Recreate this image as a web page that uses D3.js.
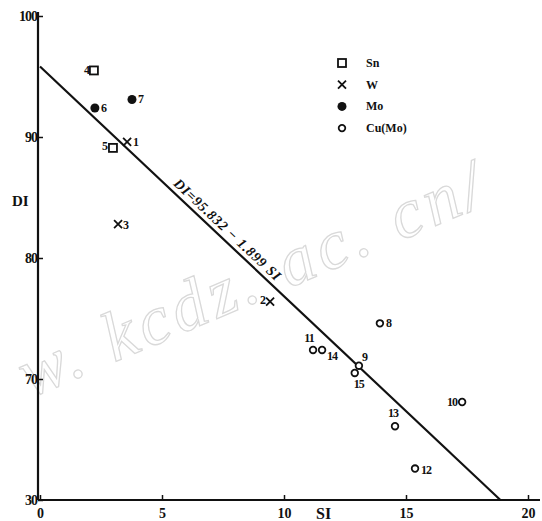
<!DOCTYPE html>
<html><head><meta charset="utf-8">
<script src="https://cdn.jsdelivr.net/npm/d3@7"></script>
<style>
body{margin:0;background:#fff;}
svg{display:block;}
text{font-family:"Liberation Serif","DejaVu Serif",serif;font-weight:bold;fill:#111;}
</style></head><body>
<svg id="c" width="542" height="521"></svg>
<script>
// ---- data ----
const pointIds   = ["1","2","3","4","5","6","7","8","9","10","11","12","13","14","15"];
const pointGroup = ["W","W","W","Sn","Sn","Mo","Mo","Cu(Mo)","Cu(Mo)","Cu(Mo)","Cu(Mo)","Cu(Mo)","Cu(Mo)","Cu(Mo)","Cu(Mo)"];
const siValues   = [3.57, 9.43, 3.2, 2.21, 2.99, 2.25, 3.77, 13.93, 13.07, 17.3, 11.19, 15.37, 14.55, 11.56, 12.9];
const diValues   = [89.6, 76.4, 82.8, 95.5, 89.1, 92.4, 93.1, 74.6, 71.1, 68.1, 72.4, 62.6, 66.1, 72.4, 70.5];
const legendKeys = ["Sn","W","Mo","Cu(Mo)"];
const xTicks = [0,5,10,15,20];
const yTicks = [60,70,80,90,100];
const yTickLabels = ["30","70","80","90","100"];
const fitIntercept = 95.832, fitSlope = -1.899;
const fitLabel = "DI=95.832 \u2212 1.899 SI";

// ---- drawing ----
const svg = d3.select("#c");
const x = d3.scaleLinear().domain([0,20]).range([40,528]);
const y = d3.scaleLinear().domain([60,100]).range([500,16]);

// watermark
svg.append("text").attr("transform","translate(30,398) rotate(-23)")
  .attr("font-size",70).attr("font-style","italic")
  .style("font-weight","normal").style("fill","none").style("stroke","#d9d9d9").style("stroke-width",1.3)
  .style("letter-spacing","5px")
  .text("w. kcdz. ac. cn/");

// axes
const xAxis = d3.axisBottom(x).tickValues(xTicks).tickSize(-5).tickFormat(d3.format("d"));
const gx = svg.append("g").attr("transform","translate(0,"+y(60)+")").call(xAxis);
gx.select(".domain").attr("d","M38,0H540").attr("stroke","#111").attr("stroke-width",2.2);
gx.selectAll(".tick line").attr("stroke","#111").attr("stroke-width",1.5);
gx.selectAll(".tick text").attr("y",8).attr("font-size",14).style("font-family","Liberation Serif, serif").style("font-weight","bold");

const yAxis = d3.axisLeft(y).tickValues(yTicks).tickSize(-5).tickFormat((d,i)=>yTickLabels[i]);
const gy = svg.append("g").attr("transform","translate(38,0)").call(yAxis);
gy.select(".domain").attr("d","M0,12V500").attr("stroke","#111").attr("stroke-width",2.2);
gy.selectAll(".tick line").attr("stroke","#111").attr("stroke-width",1.5);
gy.selectAll(".tick text").attr("x",-1).attr("font-size",14).attr("dy","0.3em")
  .style("font-family","Liberation Serif, serif").style("font-weight","bold").style("letter-spacing","-1px");

// axis titles
svg.append("text").attr("x",12).attr("y",206).attr("font-size",15).text("DI");
svg.append("text").attr("x",316).attr("y",519).attr("font-size",16).text("SI");

// regression line
const xEnd = (60 - fitIntercept)/fitSlope;
svg.append("line")
  .attr("x1",x(0)).attr("y1",y(fitIntercept))
  .attr("x2",x(xEnd)).attr("y2",y(60))
  .attr("stroke","#111").attr("stroke-width",2.2);
const ang = Math.atan2(y(60)-y(fitIntercept), x(xEnd)-x(0))*180/Math.PI;
const lx = x(5.3), ly = y(fitIntercept + fitSlope*5.3);
svg.append("text").attr("transform",`translate(${lx},${ly}) rotate(${ang}) translate(0,-5)`)
  .attr("font-size",14).attr("font-style","italic").style("letter-spacing","0.8px").text(fitLabel);

// markers
function marker(g, grp){
  if(grp==="Sn"){
    g.append("rect").attr("x",-4).attr("y",-4).attr("width",8).attr("height",8)
     .attr("fill","#fff").attr("stroke","#111").attr("stroke-width",1.8);
  } else if(grp==="W"){
    g.append("path").attr("d","M-4,-4L4,4M4,-4L-4,4").attr("stroke","#111").attr("stroke-width",1.8);
  } else if(grp==="Mo"){
    g.append("circle").attr("r",4.5).attr("fill","#111");
  } else {
    g.append("circle").attr("r",3.3).attr("fill","#fff").attr("stroke","#111").attr("stroke-width",1.8);
  }
}
// label placement (style)
const labelPos = {
  "1":[6,4,"start"],"2":[-5,2,"end"],"3":[5,5,"start"],"4":[-5,4,"end"],"5":[-6,2,"end"],
  "6":[6,4,"start"],"7":[6,4,"start"],"8":[6,4,"start"],"9":[3,-5,"start"],"10":[-5,4,"end"],
  "11":[-4,-8,"middle"],"12":[6,5,"start"],"13":[-2,-9,"middle"],"14":[5,10,"start"],"15":[4,15,"middle"]
};
pointIds.forEach((id,i)=>{
  const g = svg.append("g").attr("transform",`translate(${x(siValues[i])},${y(diValues[i])})`);
  marker(g, pointGroup[i]);
  const p = labelPos[id];
  g.append("text").attr("x",p[0]).attr("y",p[1]).attr("text-anchor",p[2])
   .attr("font-size",12).style("letter-spacing","-1px").text(id);
});

// legend
legendKeys.forEach((k,i)=>{
  const g = svg.append("g").attr("transform",`translate(342,${63+i*21.7})`);
  marker(g,k);
  g.append("text").attr("x",24).attr("y",4).attr("font-size",12).text(k);
});
</script>
</body></html>
